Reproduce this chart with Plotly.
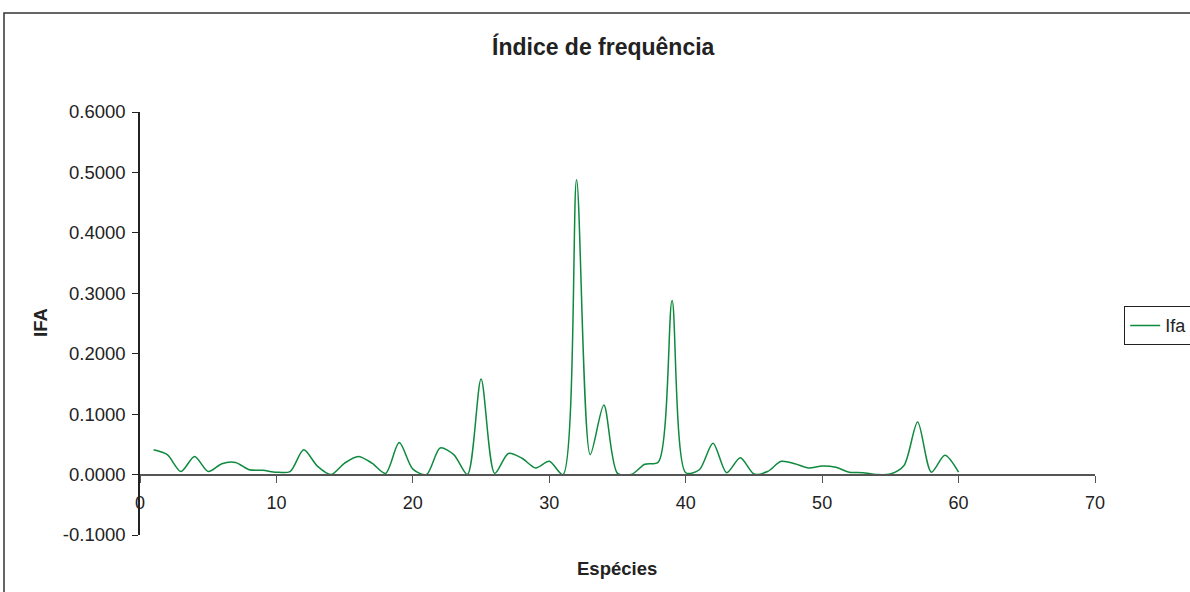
import plotly.graph_objects as go

# Species index and frequency index (IFA) per species
species = list(range(1, 61))
ifa = [
    0.041, 0.033, 0.005, 0.030, 0.005, 0.018, 0.020, 0.008, 0.007, 0.004,
    0.005, 0.041, 0.014, 0.000, 0.019, 0.030, 0.019, 0.002, 0.053, 0.009,
    0.000, 0.044, 0.033, 0.000, 0.158, 0.002, 0.035, 0.027, 0.011, 0.022,
    0.000, 0.488, 0.033, 0.115, 0.002, 0.000, 0.017, 0.021, 0.288, 0.003,
    0.008, 0.052, 0.003, 0.028, 0.001, 0.005, 0.022, 0.018, 0.011, 0.014,
    0.012, 0.004, 0.003, 0.000, 0.001, 0.015, 0.087, 0.004, 0.032, 0.004,
]
x_ticks = [0, 10, 20, 30, 40, 50, 60, 70]
y_ticks = [-0.1, 0.0, 0.1, 0.2, 0.3, 0.4, 0.5, 0.6]

FONT = "Liberation Sans, Arial, sans-serif"
LINE_GREEN = "#0e8a3e"

fig = go.Figure()
fig.add_trace(go.Scatter(
    x=species, y=ifa, mode="lines", name="Ifa",
    line=dict(color=LINE_GREEN, width=1.5, shape="spline", smoothing=0.8),
))

L, R, T, B = 140, 95, 112, 57
W, H = 1190, 592
pw, ph = W - L - R, H - T - B

def px_x(p):
    return (p - L) / pw

def px_y(p):
    return (H - B - p) / ph

y_min, y_max = -0.1, 0.6

fig.update_layout(
    width=W, height=H,
    margin=dict(l=L, r=R, t=T, b=B, autoexpand=False),
    paper_bgcolor="white", plot_bgcolor="white",
    font=dict(family=FONT, size=18, color="#222222"),
    showlegend=True,
    legend=dict(
        x=px_x(1124), y=px_y(306), xanchor="left", yanchor="top",
        bordercolor="#222222", borderwidth=1.2, bgcolor="white",
        font=dict(family=FONT, size=18, color="#222222"),
        itemwidth=30, tracegroupgap=0,
    ),
    xaxis=dict(
        range=[0, 70], tickvals=x_ticks, ticktext=[str(v) for v in x_ticks],
        showgrid=False, zeroline=False, showline=True,
        linecolor="#555555", linewidth=2,
        ticks="outside", ticklen=7, tickwidth=1.2, tickcolor="#555555",
        ticklabelstandoff=5,
        anchor="free", position=(0 - y_min) / (y_max - y_min),
        tickfont=dict(family=FONT, size=18, color="#222222"),
        fixedrange=True,
    ),
    yaxis=dict(
        range=[y_min, y_max], tickvals=y_ticks,
        ticktext=[f"{v:.4f}" for v in y_ticks],
        showgrid=False, zeroline=False, showline=True,
        linecolor="#222222", linewidth=1.5,
        ticks="outside", ticklen=6, tickwidth=1.2, tickcolor="#222222",
        ticklabelstandoff=3,
        tickfont=dict(family=FONT, size=18.5, color="#222222"),
        fixedrange=True,
    ),
    shapes=[
        # chart frame
        dict(type="rect", xref="paper", yref="paper",
             x0=px_x(4), x1=px_x(1200), y0=px_y(600), y1=px_y(13),
             line=dict(color="#333333", width=1.5), fillcolor="rgba(0,0,0,0)",
             layer="below"),
    ],
    annotations=[
        dict(text="<b>Índice de frequência</b>", xref="paper", yref="paper",
             x=px_x(603), y=px_y(46), xanchor="center", yanchor="middle",
             showarrow=False, font=dict(family=FONT, size=23, color="#222222")),
        dict(text="<b>Espécies</b>", xref="paper", yref="paper",
             x=px_x(617), y=px_y(568), xanchor="center", yanchor="middle",
             showarrow=False, font=dict(family=FONT, size=18.5, color="#222222")),
        dict(text="<b>IFA</b>", xref="paper", yref="paper",
             x=px_x(40), y=px_y(323), xanchor="center", yanchor="middle",
             textangle=-90, showarrow=False,
             font=dict(family=FONT, size=18.5, color="#222222")),
    ],
)

fig.write_html("out.html")
